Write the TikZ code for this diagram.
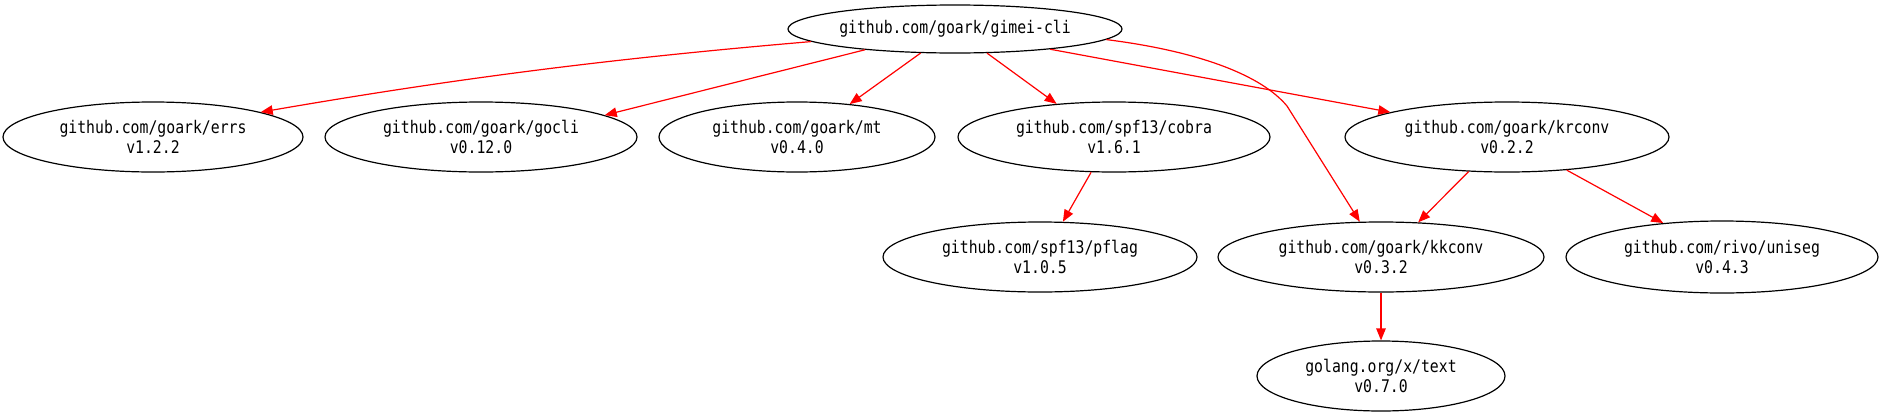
\documentclass[tikz,border=0pt]{standalone}
\usepackage{fontspec}
\newfontfamily\graphmono[FakeStretch=0.85]{DejaVu Sans Mono}
\usetikzlibrary{arrows.meta,shapes.geometric}
\begin{document}
\begin{tikzpicture}[x=1pt,y=-1pt,
  pkg/.style={draw=black, line width=1.2pt, ellipse, inner sep=0pt, align=center,
    minimum height=70pt, font=\graphmono\fontsize{17.4}{20.5}\selectfont},
  dep/.style={draw=red, line width=1.2pt, -{Triangle[length=12pt,width=9.5pt,color=red,fill=red]}}]
\useasboundingbox (0,0) rectangle (1883,418);

\node[pkg, minimum width=334pt, minimum height=48pt] (gimei) at (955,29) {github.com/goark/gimei-cli};
\node[pkg, minimum width=300pt] (errs) at (153,137) {github.com/goark/errs\\v1.2.2};
\node[pkg, minimum width=312pt] (gocli) at (481,137) {github.com/goark/gocli\\v0.12.0};
\node[pkg, minimum width=276pt] (mt) at (797,137) {github.com/goark/mt\\v0.4.0};
\node[pkg, minimum width=312pt] (cobra) at (1114,137) {github.com/spf13/cobra\\v1.6.1};
\node[pkg, minimum width=324pt] (krconv) at (1507,137) {github.com/goark/krconv\\v0.2.2};
\node[pkg, minimum width=314pt] (pflag) at (1040,257) {github.com/spf13/pflag\\v1.0.5};
\node[pkg, minimum width=326pt] (kkconv) at (1381,257) {github.com/goark/kkconv\\v0.3.2};
\node[pkg, minimum width=312pt, minimum height=72pt] (uniseg) at (1722,257) {github.com/rivo/uniseg\\v0.4.3};
\node[pkg, minimum width=248pt] (text) at (1381,376) {golang.org/x/text\\v0.7.0};
\coordinate (kkbend) at (1287,106);

\draw[dep] (gimei.185) .. controls +(-200,17) and +(197,-34) .. (errs.13);
\draw[dep] (gimei.193.3) -- (gocli.10.8);
\draw[dep] (gimei.215.5) -- (mt.32.5);
\draw[dep] (gimei.323.7) -- (cobra.150.2);
\draw[dep] (gimei.348.3) -- (krconv.168.7);
\draw[dep] (gimei.356.4) .. controls +(95,12) and +(-25,-30) .. (kkbend) -- (kkconv.121.2);
\draw[dep] (cobra.237.7) -- (pflag.57.6);
\draw[dep] (krconv.222.6) -- (kkconv.43.4);
\draw[dep] (krconv.331.6) -- (uniseg.150.6);
\draw[dep] (kkconv.south) -- (text.north);
\end{tikzpicture}
\end{document}
